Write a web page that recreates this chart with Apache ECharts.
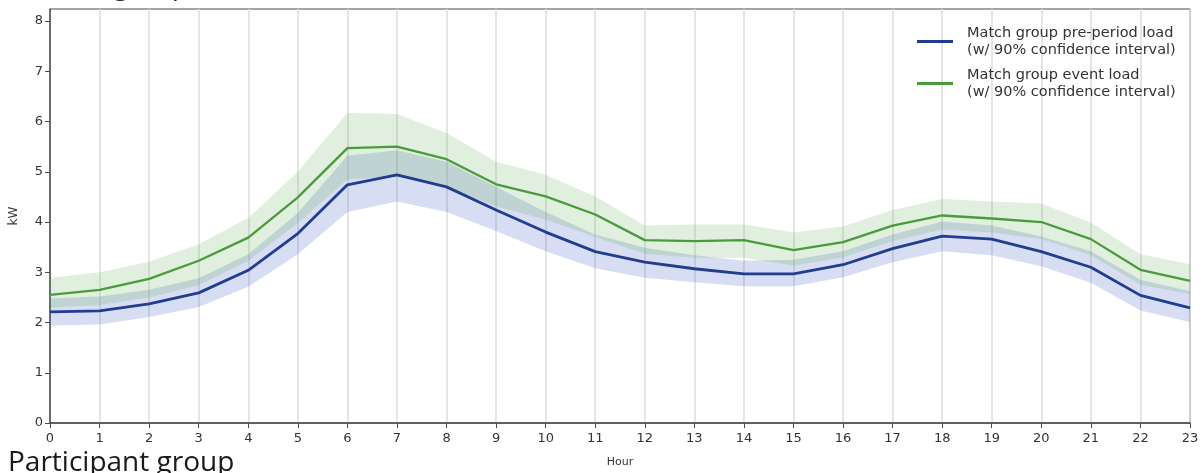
<!DOCTYPE html>
<html>
<head>
<meta charset="utf-8">
<script src="https://cdn.jsdelivr.net/npm/echarts@6/dist/echarts.min.js"></script>
<style>
html,body{margin:0;padding:0;background:#fff;}
#chart{width:1202px;height:473px;}
</style>
</head>
<body>
<div id="chart"></div>
<script>
const hours = ['0','1','2','3','4','5','6','7','8','9','10','11','12','13','14','15','16','17','18','19','20','21','22','23'];
const yTicks = [0,1,2,3,4,5,6,7,8];

const preLoad  = [2.21,2.23,2.37,2.59,3.04,3.77,4.74,4.94,4.70,4.24,3.80,3.41,3.20,3.07,2.97,2.97,3.15,3.47,3.72,3.66,3.41,3.10,2.54,2.29];
const preLower = [1.94,1.96,2.11,2.31,2.71,3.36,4.20,4.41,4.20,3.82,3.42,3.08,2.89,2.80,2.72,2.72,2.90,3.20,3.42,3.34,3.12,2.79,2.24,2.01];
const preUpper = [2.48,2.52,2.65,2.88,3.36,4.18,5.32,5.43,5.20,4.70,4.20,3.75,3.49,3.34,3.23,3.25,3.42,3.75,4.01,3.93,3.71,3.42,2.85,2.62];

const evtLoad  = [2.55,2.65,2.87,3.23,3.69,4.49,5.47,5.50,5.25,4.75,4.51,4.15,3.64,3.62,3.64,3.44,3.60,3.93,4.13,4.07,4.00,3.66,3.05,2.83];
const evtLower = [2.30,2.35,2.50,2.74,3.23,3.98,4.85,4.90,4.70,4.31,4.05,3.70,3.37,3.29,3.29,3.13,3.30,3.62,3.85,3.79,3.66,3.34,2.75,2.57];
const evtUpper = [2.89,3.00,3.21,3.56,4.08,5.00,6.17,6.15,5.77,5.20,4.94,4.51,3.93,3.95,3.95,3.79,3.91,4.24,4.46,4.41,4.37,3.99,3.36,3.16];

const preName = 'Match group pre-period load\n(w/ 90% confidence interval)';
const evtName = 'Match group event load\n(w/ 90% confidence interval)';

const preBand = preUpper.map((u,i)=>+(u-preLower[i]).toFixed(3));
const evtBand = evtUpper.map((u,i)=>+(u-evtLower[i]).toFixed(3));

const chart = echarts.init(document.getElementById('chart'), null, {renderer:'canvas'});
const hidden = {symbol:'none', lineStyle:{opacity:0}, silent:true};
chart.setOption({
  animation:false,
  color:['#213d8f','#4a9b3c'],
  grid:{left:50,right:12,top:9,bottom:48,show:true,borderColor:'#4a4a4a',borderWidth:1},
  legend:{
    orient:'vertical', left:912, top:20, itemGap:9,
    itemWidth:36, itemHeight:3, icon:'rect',
    data:[preName, evtName],
    textStyle:{fontFamily:'DejaVu Sans', fontSize:14.5, lineHeight:16.5, color:'#333', padding:[0,0,0,9]}
  },
  xAxis:{
    type:'category', data:hours, boundaryGap:false,
    name:'Hour', nameLocation:'middle', nameGap:34,
    nameTextStyle:{fontFamily:'DejaVu Sans', fontSize:11, color:'#333'},
    axisLine:{lineStyle:{color:'#4a4a4a',width:1.5}},
    axisTick:{interval:0, length:5, lineStyle:{color:'#4a4a4a'}},
    axisLabel:{interval:0, margin:9, fontFamily:'DejaVu Sans', fontSize:13, color:'#333'},
    splitLine:{show:true, interval:0, lineStyle:{color:'#dcdcdc', width:1.5}}
  },
  yAxis:{
    type:'value', min:0, max:8.24, interval:1,
    name:'kW', nameLocation:'middle', nameRotate:90, nameGap:30,
    nameTextStyle:{fontFamily:'DejaVu Sans', fontSize:12, color:'#333'},
    axisLine:{show:true, lineStyle:{color:'#4a4a4a',width:1.5}},
    axisTick:{show:true, length:5, customValues:yTicks, lineStyle:{color:'#4a4a4a'}},
    axisLabel:{margin:7, customValues:yTicks, fontFamily:'DejaVu Sans', fontSize:13, color:'#333'},
    splitLine:{show:false}
  },
  graphic:[
    {type:'text', left:8, top:449, style:{text:'Participant group', font:'28px "Open Sans"', fill:'#1a1a1a'}},
    {type:'text', left:28, top:-27.5, style:{text:'Match group', font:'27px "Open Sans"', fill:'#1a1a1a'}}
  ],
  series:[
    Object.assign({type:'line', name:'preLow', data:preLower, stack:'pre'}, hidden),
    Object.assign({type:'line', name:'preBand', data:preBand, stack:'pre', areaStyle:{color:'rgba(60,90,190,0.29)'}}, hidden),
    Object.assign({type:'line', name:'evtLow', data:evtLower, stack:'evt'}, hidden),
    Object.assign({type:'line', name:'evtBand', data:evtBand, stack:'evt', areaStyle:{color:'rgba(90,170,80,0.27)'}}, hidden),
    {type:'line', name:preName, data:preLoad, symbol:'none', color:'#213d8f', lineStyle:{color:'#213d8f', width:2.8}, z:5},
    {type:'line', name:evtName, data:evtLoad, symbol:'none', color:'#4a9b3c', lineStyle:{color:'#4a9b3c', width:2.3}, z:6}
  ]
});
</script>
</body>
</html>
